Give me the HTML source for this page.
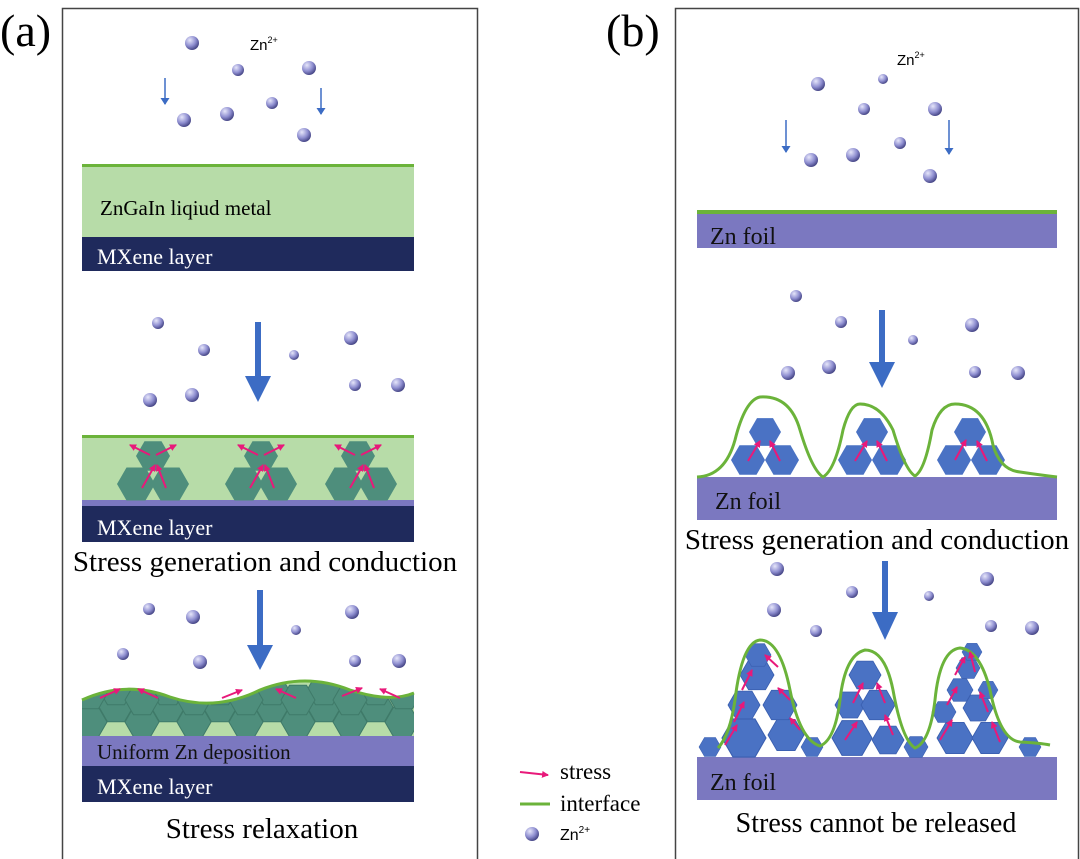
<!DOCTYPE html>
<html><head><meta charset="utf-8"><style>body{margin:0;background:#fff}svg{display:block}</style></head><body>
<svg width="1080" height="859" viewBox="0 0 1080 859" xmlns="http://www.w3.org/2000/svg" font-family="Liberation Serif, serif">
<defs>
<radialGradient id="ball" cx="0.35" cy="0.3" r="0.7"><stop offset="0" stop-color="#e6e6fa"/><stop offset="0.6" stop-color="#8e8ed0"/><stop offset="1" stop-color="#4a4a8a"/></radialGradient>
<polygon id="h" points="1,0 0.5,0.866 -0.5,0.866 -1,0 -0.5,-0.866 0.5,-0.866"/>
<marker id="pa" markerUnits="userSpaceOnUse" markerWidth="7" markerHeight="7" refX="6" refY="3.5" orient="auto"><path d="M0,0 L7,3.5 L0,7 z" fill="#e8197a"/></marker>
<marker id="ba" markerUnits="userSpaceOnUse" markerWidth="7" markerHeight="9" refX="6" refY="4.5" orient="auto"><path d="M0,0 L7,4.5 L0,9 z" fill="#3c6cc4"/></marker>
<clipPath id="wv"><path d="M82,700 Q125,680 170,697 Q215,712 260,690 Q305,672 350,690 Q390,703 414,693 L414,736 L82,736 Z"/></clipPath>
</defs>
<rect x="62.5" y="8.5" width="415" height="852" fill="none" stroke="#444" stroke-width="1.5"/>
<rect x="675.5" y="8.5" width="403" height="852" fill="none" stroke="#444" stroke-width="1.5"/>
<text x="0" y="46" font-size="46">(a)</text>
<text x="606" y="46" font-size="46">(b)</text>

<g fill="url(#ball)">
<circle cx="192" cy="43" r="7"/><circle cx="238" cy="70" r="6"/><circle cx="309" cy="68" r="7"/><circle cx="272" cy="103" r="6"/><circle cx="227" cy="114" r="7"/><circle cx="184" cy="120" r="7"/><circle cx="304" cy="135" r="7"/>
<circle cx="158" cy="323" r="6"/><circle cx="204" cy="350" r="6"/><circle cx="294" cy="355" r="5"/><circle cx="351" cy="338" r="7"/><circle cx="355" cy="385" r="6"/><circle cx="398" cy="385" r="7"/><circle cx="150" cy="400" r="7"/><circle cx="192" cy="395" r="7"/>
<circle cx="149" cy="609" r="6"/><circle cx="193" cy="617" r="7"/><circle cx="296" cy="630" r="5"/><circle cx="352" cy="612" r="7"/><circle cx="123" cy="654" r="6"/><circle cx="200" cy="662" r="7"/><circle cx="355" cy="661" r="6"/><circle cx="399" cy="661" r="7"/>
</g>
<text x="250" y="50" font-family="Liberation Sans, sans-serif" font-size="15">Zn<tspan font-size="9" dy="-7">2+</tspan></text>
<line x1="165" y1="78" x2="165" y2="104" stroke="#3c6cc4" stroke-width="1.5" marker-end="url(#ba)"/>
<line x1="321" y1="88" x2="321" y2="114" stroke="#3c6cc4" stroke-width="1.5" marker-end="url(#ba)"/>
<rect x="82" y="166" width="332" height="71" fill="#b7dca8"/>
<rect x="82" y="164" width="332" height="3" fill="#6bb33a"/>
<rect x="82" y="237" width="332" height="34" fill="#1f2a5c"/>
<text x="100" y="215" font-size="21">ZnGaIn liqiud metal</text>
<text x="97" y="264" font-size="22" fill="#fff">MXene layer</text>

<line x1="258" y1="322" x2="258" y2="380" stroke="#3c6cc4" stroke-width="6"/><path d="M245,376 L271,376 L258,402 Z" fill="#3c6cc4"/>

<rect x="82" y="437" width="332" height="63" fill="#b7dca8"/>
<rect x="82" y="435" width="332" height="3" fill="#6bb33a"/>
<rect x="82" y="500" width="332" height="6" fill="#7b78c0"/>
<rect x="82" y="506" width="332" height="36" fill="#1f2a5c"/>
<text x="97" y="535" font-size="22" fill="#fff">MXene layer</text>
<g fill="#4e8e7c">
<use href="#h" transform="translate(136,484) scale(19)"/><use href="#h" transform="translate(170,484) scale(19)"/><use href="#h" transform="translate(153,456) scale(17)"/>
<use href="#h" transform="translate(244,484) scale(19)"/><use href="#h" transform="translate(278,484) scale(19)"/><use href="#h" transform="translate(261,456) scale(17)"/>
<use href="#h" transform="translate(344,484) scale(19)"/><use href="#h" transform="translate(378,484) scale(19)"/><use href="#h" transform="translate(358,456) scale(17)"/>
</g>
<g stroke="#e8197a" stroke-width="2" marker-end="url(#pa)">
<line x1="142" y1="488" x2="155" y2="465"/><line x1="166" y1="488" x2="157" y2="465"/><line x1="150" y1="455" x2="130" y2="445"/><line x1="156" y1="455" x2="176" y2="445"/>
<line x1="250" y1="488" x2="263" y2="465"/><line x1="274" y1="488" x2="265" y2="465"/><line x1="258" y1="455" x2="238" y2="445"/><line x1="264" y1="455" x2="284" y2="445"/>
<line x1="350" y1="488" x2="363" y2="465"/><line x1="374" y1="488" x2="365" y2="465"/><line x1="355" y1="455" x2="335" y2="445"/><line x1="361" y1="455" x2="381" y2="445"/>
</g>
<text x="265" y="571" font-size="29" text-anchor="middle">Stress generation and conduction</text>

<line x1="260" y1="590" x2="260" y2="648" stroke="#3c6cc4" stroke-width="6"/><path d="M247,645 L273,645 L260,670 Z" fill="#3c6cc4"/>

<path d="M82,700 Q125,680 170,697 Q215,712 260,690 Q305,672 350,690 Q390,703 414,693 L414,736 L82,736 Z" fill="#b7dca8"/>
<g clip-path="url(#wv)" fill="#4e8e7c" stroke="#3f7a69" stroke-width="0.06">
<use href="#h" transform="translate(90,722) scale(17)"/><use href="#h" transform="translate(116,707) scale(17)"/><use href="#h" transform="translate(142,722) scale(17)"/><use href="#h" transform="translate(168,707) scale(17)"/><use href="#h" transform="translate(194,722) scale(17)"/><use href="#h" transform="translate(220,707) scale(17)"/><use href="#h" transform="translate(246,722) scale(17)"/><use href="#h" transform="translate(272,707) scale(17)"/><use href="#h" transform="translate(298,722) scale(17)"/><use href="#h" transform="translate(324,707) scale(17)"/><use href="#h" transform="translate(350,722) scale(17)"/><use href="#h" transform="translate(376,707) scale(17)"/><use href="#h" transform="translate(402,722) scale(17)"/>
<use href="#h" transform="translate(116,690) scale(17)"/><use href="#h" transform="translate(220,690) scale(17)"/><use href="#h" transform="translate(272,690) scale(17)"/><use href="#h" transform="translate(324,690) scale(17)"/><use href="#h" transform="translate(376,690) scale(17)"/><use href="#h" transform="translate(90,694) scale(17)"/><use href="#h" transform="translate(404,694) scale(17)"/>
<use href="#h" transform="translate(168,690) scale(17)"/><use href="#h" transform="translate(142,700) scale(17)"/><use href="#h" transform="translate(194,700) scale(17)"/><use href="#h" transform="translate(246,700) scale(17)"/><use href="#h" transform="translate(298,700) scale(17)"/><use href="#h" transform="translate(350,700) scale(17)"/>
</g>
<path d="M82,700 Q125,680 170,697 Q215,712 260,690 Q305,672 350,690 Q390,703 414,693" fill="none" stroke="#6bb33a" stroke-width="3"/>
<g stroke="#e8197a" stroke-width="2" marker-end="url(#pa)">
<line x1="100" y1="698" x2="120" y2="689"/><line x1="158" y1="698" x2="138" y2="689"/><line x1="222" y1="698" x2="242" y2="690"/><line x1="296" y1="698" x2="276" y2="689"/><line x1="342" y1="696" x2="362" y2="688"/><line x1="400" y1="698" x2="380" y2="689"/>
</g>
<rect x="82" y="736" width="332" height="30" fill="#7b78c0"/>
<rect x="82" y="766" width="332" height="36" fill="#1f2a5c"/>
<text x="97" y="759" font-size="21" fill="#111">Uniform Zn deposition</text>
<text x="97" y="794" font-size="22" fill="#fff">MXene layer</text>
<text x="262" y="838" font-size="29" text-anchor="middle">Stress relaxation</text>

<line x1="520" y1="772" x2="548" y2="775" stroke="#e8197a" stroke-width="2" marker-end="url(#pa)"/>
<text x="560" y="779" font-size="23">stress</text>
<line x1="520" y1="804" x2="550" y2="804" stroke="#6bb33a" stroke-width="3"/>
<text x="560" y="811" font-size="23">interface</text>
<circle cx="532" cy="834" r="7" fill="url(#ball)"/>
<text x="560" y="840" font-family="Liberation Sans, sans-serif" font-size="16">Zn<tspan font-size="10" dy="-7">2+</tspan></text>

<g fill="url(#ball)">
<circle cx="883" cy="79" r="5"/><circle cx="818" cy="84" r="7"/><circle cx="864" cy="109" r="6"/><circle cx="935" cy="109" r="7"/><circle cx="900" cy="143" r="6"/><circle cx="853" cy="155" r="7"/><circle cx="811" cy="160" r="7"/><circle cx="930" cy="176" r="7"/>
<circle cx="796" cy="296" r="6"/><circle cx="841" cy="322" r="6"/><circle cx="972" cy="325" r="7"/><circle cx="913" cy="340" r="5"/><circle cx="829" cy="367" r="7"/><circle cx="788" cy="373" r="7"/><circle cx="975" cy="372" r="6"/><circle cx="1018" cy="373" r="7"/>
<circle cx="777" cy="569" r="7"/><circle cx="852" cy="592" r="6"/><circle cx="929" cy="596" r="5"/><circle cx="987" cy="579" r="7"/><circle cx="774" cy="610" r="7"/><circle cx="816" cy="631" r="6"/><circle cx="991" cy="626" r="6"/><circle cx="1032" cy="628" r="7"/>
</g>
<text x="897" y="65" font-family="Liberation Sans, sans-serif" font-size="15">Zn<tspan font-size="9" dy="-7">2+</tspan></text>
<line x1="786" y1="120" x2="786" y2="152" stroke="#3c6cc4" stroke-width="1.5" marker-end="url(#ba)"/>
<line x1="949" y1="120" x2="949" y2="154" stroke="#3c6cc4" stroke-width="1.5" marker-end="url(#ba)"/>
<rect x="697" y="210" width="360" height="4" fill="#6bb33a"/>
<rect x="697" y="214" width="360" height="34" fill="#7b78c0"/>
<text x="710" y="244" font-size="24" fill="#111">Zn foil</text>

<line x1="882" y1="310" x2="882" y2="365" stroke="#3c6cc4" stroke-width="6"/><path d="M869,362 L895,362 L882,388 Z" fill="#3c6cc4"/>

<rect x="697" y="477" width="360" height="43" fill="#7b78c0"/>
<text x="715" y="509" font-size="24" fill="#111">Zn foil</text>
<g fill="#4a72c4">
<use href="#h" transform="translate(748,460) scale(17)"/><use href="#h" transform="translate(782,460) scale(17)"/><use href="#h" transform="translate(765,432) scale(16)"/>
<use href="#h" transform="translate(855,460) scale(17)"/><use href="#h" transform="translate(889,460) scale(17)"/><use href="#h" transform="translate(872,432) scale(16)"/>
<use href="#h" transform="translate(954,460) scale(17)"/><use href="#h" transform="translate(988,460) scale(17)"/><use href="#h" transform="translate(970,432) scale(16)"/>
</g>
<path d="M697,477 Q725,476 735,440 Q745,400 760,397 Q790,395 800,430 Q812,470 823,477 Q835,470 843,430 Q850,404 860,404 Q880,404 893,430 Q905,470 915,476 Q925,470 932,430 Q940,404 955,404 Q985,404 993,445 Q1000,470 1020,472 Q1040,475 1057,477" fill="none" stroke="#6bb33a" stroke-width="3"/>
<g stroke="#e8197a" stroke-width="2" marker-end="url(#pa)">
<line x1="748" y1="461" x2="760" y2="441"/><line x1="780" y1="461" x2="770" y2="441"/><line x1="855" y1="461" x2="867" y2="441"/><line x1="887" y1="461" x2="877" y2="441"/><line x1="955" y1="460" x2="966" y2="440"/><line x1="987" y1="461" x2="977" y2="441"/>
</g>
<text x="877" y="549" font-size="29" text-anchor="middle">Stress generation and conduction</text>

<line x1="885" y1="561" x2="885" y2="615" stroke="#3c6cc4" stroke-width="6"/><path d="M872,612 L898,612 L885,640 Z" fill="#3c6cc4"/>

<rect x="697" y="757" width="360" height="43" fill="#7b78c0"/>
<text x="710" y="790" font-size="24" fill="#111">Zn foil</text>
<g fill="#4a72c4" stroke="#3a5fb0" stroke-width="0.05">
<use href="#h" transform="translate(710,747) scale(11)"/><use href="#h" transform="translate(744,738) scale(22)"/><use href="#h" transform="translate(786,735) scale(18)"/><use href="#h" transform="translate(812,747) scale(11)"/>
<use href="#h" transform="translate(744,705) scale(16)"/><use href="#h" transform="translate(780,705) scale(17)"/><use href="#h" transform="translate(757,675) scale(17)"/><use href="#h" transform="translate(758,655) scale(13)"/>
<use href="#h" transform="translate(852,738) scale(20)"/><use href="#h" transform="translate(888,740) scale(16)"/><use href="#h" transform="translate(916,747) scale(12)"/>
<use href="#h" transform="translate(850,705) scale(15)"/><use href="#h" transform="translate(878,705) scale(17)"/><use href="#h" transform="translate(865,675) scale(16)"/>
<use href="#h" transform="translate(955,738) scale(18)"/><use href="#h" transform="translate(990,738) scale(18)"/><use href="#h" transform="translate(1030,747) scale(11)"/>
<use href="#h" transform="translate(944,712) scale(12)"/><use href="#h" transform="translate(978,708) scale(15)"/><use href="#h" transform="translate(960,690) scale(13)"/><use href="#h" transform="translate(988,690) scale(10)"/><use href="#h" transform="translate(968,668) scale(12)"/><use href="#h" transform="translate(972,652) scale(10)"/>
</g>
<path d="M718,748 Q730,735 735,700 Q742,642 760,640 Q780,640 790,690 Q800,740 820,746 Q835,740 840,700 Q845,655 865,650 Q885,650 893,690 Q902,740 915,748 Q930,742 935,700 Q940,650 960,648 Q980,650 990,690 Q1000,740 1020,742 Q1040,743 1050,745" fill="none" stroke="#6bb33a" stroke-width="3"/>
<g stroke="#e8197a" stroke-width="2" marker-end="url(#pa)">
<line x1="725" y1="745" x2="737" y2="725"/><line x1="734" y1="722" x2="744" y2="702"/><line x1="742" y1="690" x2="752" y2="670"/><line x1="778" y1="667" x2="765" y2="655"/><line x1="790" y1="700" x2="778" y2="688"/><line x1="800" y1="730" x2="790" y2="718"/>
<line x1="845" y1="740" x2="857" y2="722"/><line x1="853" y1="703" x2="863" y2="683"/><line x1="885" y1="703" x2="877" y2="683"/><line x1="893" y1="735" x2="885" y2="715"/>
<line x1="940" y1="740" x2="952" y2="720"/><line x1="947" y1="705" x2="957" y2="687"/><line x1="955" y1="675" x2="965" y2="657"/><line x1="975" y1="672" x2="970" y2="652"/><line x1="988" y1="712" x2="980" y2="692"/><line x1="1000" y1="742" x2="992" y2="722"/>
</g>
<text x="876" y="832" font-size="28" text-anchor="middle">Stress cannot be released</text>
</svg>
</body></html>
